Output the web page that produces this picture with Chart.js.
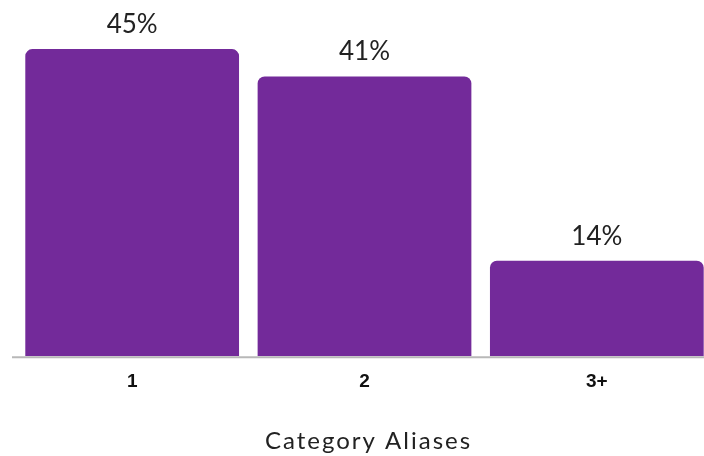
<!DOCTYPE html>
<html>
<head>
<meta charset="utf-8">
<script src="https://cdn.jsdelivr.net/npm/chart.js@4/dist/chart.umd.min.js"></script>
<style>
  html, body { margin: 0; padding: 0; background: #fff; overflow: hidden; }
  #wrap { position: relative; width: 716px; height: 456px; }
</style>
</head>
<body>
<div id="wrap"><canvas id="chart"></canvas></div>
<script>
const categories = ['1', '2', '3+'];
const shares = [45, 41, 14];
const axisTitle = 'Category Aliases';

// Percent labels above each bar
const valueLabels = {
  id: 'valueLabels',
  afterDatasetsDraw(chart) {
    const ctx = chart.ctx;
    const meta = chart.getDatasetMeta(0);
    ctx.save();
    ctx.font = '400 26px Lato, "Open Sans", sans-serif';
    ctx.fillStyle = '#222';
    ctx.textAlign = 'center';
    ctx.textBaseline = 'alphabetic';
    meta.data.forEach((bar, i) => {
      ctx.fillText(shares[i] + '%', bar.x, bar.y - 16);
    });
    ctx.restore();
  }
};

// Baseline under the bars, a little wider than the plot area on the left
const baseline = {
  id: 'baseline',
  afterDatasetsDraw(chart) {
    const { ctx, chartArea } = chart;
    const y = chart.scales.y.getPixelForValue(0);
    ctx.save();
    ctx.strokeStyle = '#b8b8b8';
    ctx.lineWidth = 2;
    ctx.beginPath();
    ctx.moveTo(chartArea.left - 4, y + 1);
    ctx.lineTo(chartArea.right, y + 1);
    ctx.stroke();
    ctx.restore();
  }
};

// Category axis title, set with a little tracking
const xTitle = {
  id: 'xTitle',
  afterDraw(chart) {
    const { ctx, chartArea } = chart;
    ctx.save();
    ctx.font = '400 24px Lato, "Open Sans", sans-serif';
    ctx.letterSpacing = '2px';
    ctx.fillStyle = '#222';
    ctx.textAlign = 'center';
    ctx.textBaseline = 'alphabetic';
    ctx.fillText(axisTitle, (chartArea.left + chartArea.right) / 2 + 4, chart.height - 7);
    ctx.restore();
  }
};

new Chart(document.getElementById('chart'), {
  type: 'bar',
  data: {
    labels: categories,
    datasets: [{
      data: shares,
      backgroundColor: '#732a9a',
      borderRadius: { topLeft: 7, topRight: 7, bottomLeft: 0, bottomRight: 0 },
      borderSkipped: 'bottom',
      categoryPercentage: 0.92,
      barPercentage: 1.0
    }]
  },
  options: {
    responsive: true,
    maintainAspectRatio: false,
    animation: false,
    layout: { padding: { left: 16, right: 3, top: 15, bottom: 57 } },
    plugins: {
      legend: { display: false },
      tooltip: { enabled: false }
    },
    scales: {
      x: {
        grid: { display: false },
        border: { display: false },
        ticks: {
          color: '#111',
          font: { family: '"Liberation Sans", Arial, sans-serif', size: 19, weight: 'bold' },
          padding: 6
        }
      },
      y: {
        display: false,
        min: 0,
        max: 50
      }
    }
  },
  plugins: [valueLabels, baseline, xTitle]
});
</script>
</body>
</html>
